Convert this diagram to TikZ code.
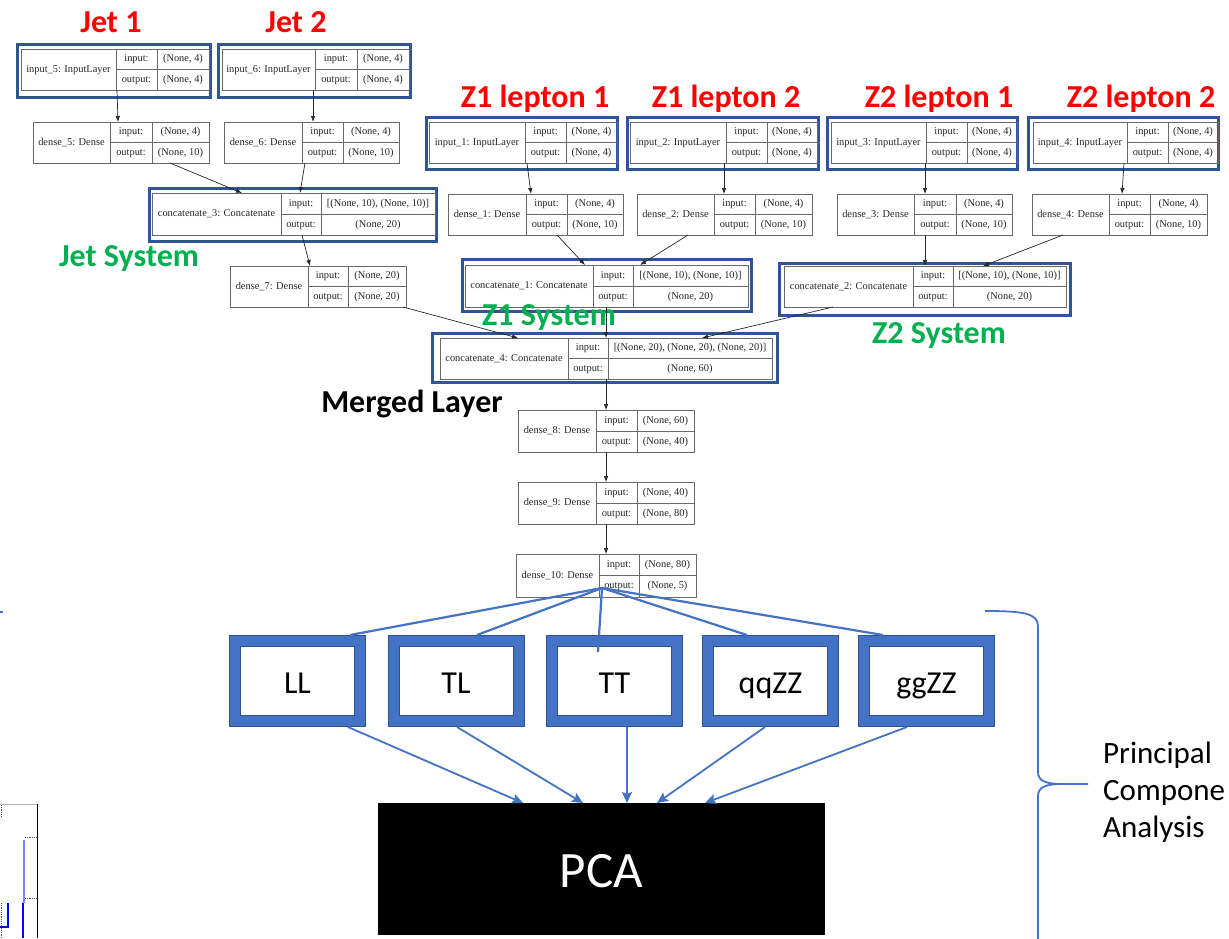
\documentclass[tikz,border=0pt]{standalone}
\usepackage{fontspec}
\setmainfont{Liberation Serif}
\newfontfamily\calfont{Carlito}
\usetikzlibrary{calc,arrows.meta}

\definecolor{kframe}{RGB}{47,85,151}
\definecolor{obox}{RGB}{68,114,196}
\definecolor{oboxdark}{RGB}{47,82,143}
\definecolor{lblred}{RGB}{255,0,0}
\definecolor{lblgreen}{RGB}{0,176,80}
\definecolor{kgray}{RGB}{105,105,105}
\definecolor{plotblue}{RGB}{0,0,255}
\definecolor{plotlight}{RGB}{128,128,255}

\tikzset{
  kcell/.style={draw=kgray, line width=0.9pt, inner sep=0pt, outer sep=0pt, anchor=north west},
  kline/.style={draw=kgray, line width=0.9pt},
  ktext/.style={font=\fontsize{10.4}{12}\selectfont, inner sep=0pt, text height=7.2pt, text depth=2.2pt, text=black!85},
  kframebox/.style={draw=kframe, line width=3pt, inner sep=0pt, outer sep=0pt, anchor=north west},
  karrow/.style={-{Latex[length=6pt,width=4.5pt]}, line width=0.7pt, black!85},
  redlbl/.style={font=\calfont\bfseries\fontsize{32}{38}\selectfont, text=lblred, anchor=base, inner sep=0pt},
  greenlbl/.style={font=\calfont\bfseries\fontsize{32}{38}\selectfont, text=lblgreen, anchor=base, inner sep=0pt},
  blacklbl/.style={font=\calfont\bfseries\fontsize{32}{38}\selectfont, text=black, anchor=base, inner sep=0pt},
  cbox/.style={draw=oboxdark, line width=12pt, fill=white, minimum width=125pt, minimum height=80pt,
    inner sep=0pt, outer sep=6pt, postaction={draw=obox, line width=10pt},
    font=\calfont\fontsize{32}{38}\selectfont, text height=26pt, text depth=2pt},
  pcabox/.style={fill=black, minimum width=447pt, minimum height=132pt, inner sep=0pt, outer sep=0pt,
    text=white, font=\calfont\fontsize{51}{60}\selectfont, text height=36pt, text depth=0pt},
  fanline/.style={draw=obox, line width=2.2pt},
  pcaarrow/.style={draw=obox, line width=1.8pt, -{Stealth[length=11pt,width=10pt,inset=2pt]}},
  bracepath/.style={draw=obox, line width=1.8pt},
  pcatext/.style={font=\calfont\fontsize{31}{37}\selectfont, anchor=base west, inner sep=0pt},
}

% one Keras layer table: name, left, top, right, bottom, first split, second split, title
\newcommand{\kerasnode}[8]{%
  \node[kcell, minimum width={#4pt-#2pt}, minimum height={#5pt-#3pt}] (#1) at (#2,#3) {};
  \draw[kline] (#6,#3) -- (#6,#5) (#7,#3) -- (#7,#5) ({#6},{(#3+#5)/2}) -- ({#4},{(#3+#5)/2});
  \node[ktext] (#1-title) at ({(#2+#6)/2},{(#3+#5)/2}) {#8};
  \node[ktext] (#1-inlab) at ({(#6+#7)/2},{(3*#3+#5)/4}) {input:};
  \node[ktext] (#1-outlab) at ({(#6+#7)/2},{(#3+3*#5)/4}) {output:};
  \coordinate (#1-inval) at ({(#7+#4)/2},{(3*#3+#5)/4});
  \coordinate (#1-outval) at ({(#7+#4)/2},{(#3+3*#5)/4});
}
% shapes written into the last column
\newcommand{\kerasshape}[3]{%
  \node[ktext] (#1-in) at (#1-inval) {#2};
  \node[ktext] (#1-out) at (#1-outval) {#3};
}
% blue frame around a group: name, outer left, top, right, bottom
\newcommand{\groupframe}[5]{%
  \node[kframebox, minimum width={#4pt-#2pt-3pt}, minimum height={#5pt-#3pt-3pt}] (#1) at ({#2+1.5},{#3+1.5}) {};
}
% graph edge: from node, x at its bottom, to node, x at its top
\newcommand{\kedge}[4]{\draw[karrow] (#2,0 |- #1.south) -- (#4,0 |- #3.north);}

\begin{document}
\begin{tikzpicture}[x=1pt,y=-1pt]
\fill[white] (0,0) rectangle (1229,938);
\useasboundingbox (0,0) rectangle (1229,938);
\clip (0,0) rectangle (1229,938);

% fragments at the left border
\draw[obox, line width=2pt] (0,612) -- (3,612);
\draw[gray!60, line width=1pt] (0,804) -- (38,804);
\draw[black, line width=1pt] (37,804) -- (37,938);
\draw[black!70, line width=0.8pt, densely dotted] (1,805) -- (1,816) (1,903) -- (1,938) (25,837) -- (37,837) (25,898) -- (37,898);
\draw[plotlight, line width=1.5pt] (24,840) -- (24,903);
\draw[plotblue, line width=2.2pt] (23,903) -- (23,938);
\draw[plotblue, line width=2.2pt] (8,903) -- (8,927) -- (0,927);

% group frames
\groupframe{fin5}{16}{43}{212}{99}
\groupframe{fin6}{217}{43}{412}{99}
\groupframe{fc3}{148}{187}{438}{243}
\groupframe{fin1}{425}{116}{619}{171}
\groupframe{fin2}{626}{116}{820}{171}
\groupframe{fin3}{826}{116}{1019}{171}
\groupframe{fin4}{1027}{116}{1220}{171}
\groupframe{fc1}{461}{258}{753}{313}
\groupframe{fc2}{778}{262}{1072}{317}
\groupframe{fc4}{431}{332}{779}{384}

% layer tables
\kerasnode{in5}{21}{49}{209}{90}{116}{157}{input\_5: InputLayer}
\kerasshape{in5}{(None, 4)}{(None, 4)}
\kerasnode{in6}{222}{49}{409}{90}{315}{357}{input\_6: InputLayer}
\kerasshape{in6}{(None, 4)}{(None, 4)}
\kerasnode{d5}{33}{122}{209}{163}{110}{152}{dense\_5: Dense}
\kerasshape{d5}{(None, 4)}{(None, 10)}
\kerasnode{d6}{224}{122}{399}{163}{302}{343}{dense\_6: Dense}
\kerasshape{d6}{(None, 4)}{(None, 10)}
\kerasnode{c3}{152}{193}{435}{235}{281}{321}{concatenate\_3: Concatenate}
\kerasshape{c3}{[(None, 10), (None, 10)]}{(None, 20)}
\kerasnode{d7}{230}{266}{406}{307}{308}{348}{dense\_7: Dense}
\kerasshape{d7}{(None, 20)}{(None, 20)}

\kerasnode{in1}{429}{122}{617}{163}{525}{566}{input\_1: InputLayer}
\kerasshape{in1}{(None, 4)}{(None, 4)}
\kerasnode{in2}{630}{122}{817}{163}{726}{767}{input\_2: InputLayer}
\kerasshape{in2}{(None, 4)}{(None, 4)}
\kerasnode{in3}{831}{122}{1017}{163}{926}{967}{input\_3: InputLayer}
\kerasshape{in3}{(None, 4)}{(None, 4)}
\kerasnode{in4}{1033}{122}{1218}{163}{1127}{1168}{input\_4: InputLayer}
\kerasshape{in4}{(None, 4)}{(None, 4)}

\kerasnode{d1}{448}{194}{623}{235}{526}{567}{dense\_1: Dense}
\kerasshape{d1}{(None, 4)}{(None, 10)}
\kerasnode{d2}{637}{194}{812}{235}{714}{755}{dense\_2: Dense}
\kerasshape{d2}{(None, 4)}{(None, 10)}
\kerasnode{d3}{837}{194}{1012}{235}{914}{956}{dense\_3: Dense}
\kerasshape{d3}{(None, 4)}{(None, 10)}
\kerasnode{d4}{1032}{194}{1207}{235}{1109}{1150}{dense\_4: Dense}
\kerasshape{d4}{(None, 4)}{(None, 10)}

\kerasnode{c1}{465}{265}{748}{307}{593}{633}{concatenate\_1: Concatenate}
\kerasshape{c1}{[(None, 10), (None, 10)]}{(None, 20)}
\kerasnode{c2}{784}{266}{1066}{307}{913}{953}{concatenate\_2: Concatenate}
\kerasshape{c2}{[(None, 10), (None, 10)]}{(None, 20)}

\kerasnode{c4}{440}{338}{772}{379}{568}{608}{concatenate\_4: Concatenate}
\kerasshape{c4}{[(None, 20), (None, 20), (None, 20)]}{(None, 60)}
\kerasnode{d8}{518}{410}{694}{452}{596}{637}{dense\_8: Dense}
\kerasshape{d8}{(None, 60)}{(None, 40)}
\kerasnode{d9}{518}{482}{694}{524}{596}{637}{dense\_9: Dense}
\kerasshape{d9}{(None, 40)}{(None, 80)}
\kerasnode{d10}{516}{554}{696}{597}{599}{639}{dense\_10: Dense}
\kerasshape{d10}{(None, 80)}{(None, 5)}

% group labels
\node[redlbl] (lj1) at (111,32) {Jet 1};
\node[redlbl] (lj2) at (296,32) {Jet 2};
\node[redlbl] (lz11) at (535,107) {Z1 lepton 1};
\node[redlbl] (lz12) at (726,107) {Z1 lepton 2};
\node[redlbl] (lz21) at (939,107) {Z2 lepton 1};
\node[redlbl] (lz22) at (1141,107) {Z2 lepton 2};
\node[greenlbl] (ljs) at (129,266) {Jet System};
\node[greenlbl] (lz1s) at (549,325) {Z1 System};
\node[greenlbl] (lz2s) at (939,343) {Z2 System};
\node[blacklbl] (lmerge) at (412,412) {Merged Layer};

% graph edges
\kedge{in5}{117}{d5}{118}
\kedge{in6}{313}{d6}{313}
\kedge{d5}{170}{c3}{242}
\kedge{d6}{305}{c3}{300}
\kedge{c3}{302}{d7}{310}
\kedge{d7}{403}{c4}{518}
\kedge{in1}{527}{d1}{531}
\kedge{in2}{724}{d2}{724}
\kedge{d1}{557}{c1}{585}
\kedge{d2}{688}{c1}{640}
\kedge{c1}{606}{c4}{606}
\kedge{in3}{925}{d3}{925}
\kedge{in4}{1124}{d4}{1122}
\kedge{d3}{925}{c2}{925}
\kedge{d4}{1063}{c2}{983}
\kedge{c2}{833}{c4}{702}
\kedge{c4}{606}{d8}{606}
\kedge{d8}{606}{d9}{606}
\kedge{d9}{606}{d10}{606}

% output classes
\node[cbox] (ll) at (297.5,681) {LL};
\node[cbox] (tl) at (456,681) {TL};
\node[cbox] (tt) at (614.5,681) {TT};
\node[cbox] (qq) at (770.5,681) {qqZZ};
\node[cbox] (gg) at (926.5,681) {ggZZ};

% fan from the last dense layer
\coordinate (fan) at (602,588);
\draw[fanline] (fan) -- (350,0 |- ll.north);
\draw[fanline] (fan) -- (477,0 |- tl.north);
\draw[fanline] (fan) -- ($(tt.north)+(-16.5,17)$);
\draw[fanline] (fan) -- (747,0 |- qq.north);
\draw[fanline] (fan) -- (883,0 |- gg.north);

% PCA block
\node[pcabox] (pca) at (601.5,869) {PCA};
\draw[pcaarrow] (348,0 |- ll.south) -- (523,0 |- pca.north);
\draw[pcaarrow] (457,0 |- tl.south) -- (583,0 |- pca.north);
\draw[pcaarrow] (627,0 |- tt.south) -- (627,0 |- pca.north);
\draw[pcaarrow] (765,0 |- qq.south) -- (657,0 |- pca.north);
\draw[pcaarrow] (907,0 |- gg.south) -- (705,0 |- pca.north);

% brace and its caption
\coordinate (bracetop) at (985,611);
\coordinate (bracetip) at (1088,784);
\coordinate (bracebot) at (1038,940);
\draw[bracepath] (bracetop) .. controls (1022,611) and (1038,613) .. (1038,626)
  -- (1038,772) .. controls (1038,781) and (1046,784) .. (1062,784) -- (bracetip);
\draw[bracepath] (1062,784) .. controls (1046,784) and (1038,787) .. (1038,796) -- (bracebot);
\node[pcatext] (pc1) at (1103,763) {Principal};
\node[pcatext] (pc2) at (1103,800) {Compone};
\node[pcatext] (pc3) at (1103,837) {Analysis};
\end{tikzpicture}
\end{document}
